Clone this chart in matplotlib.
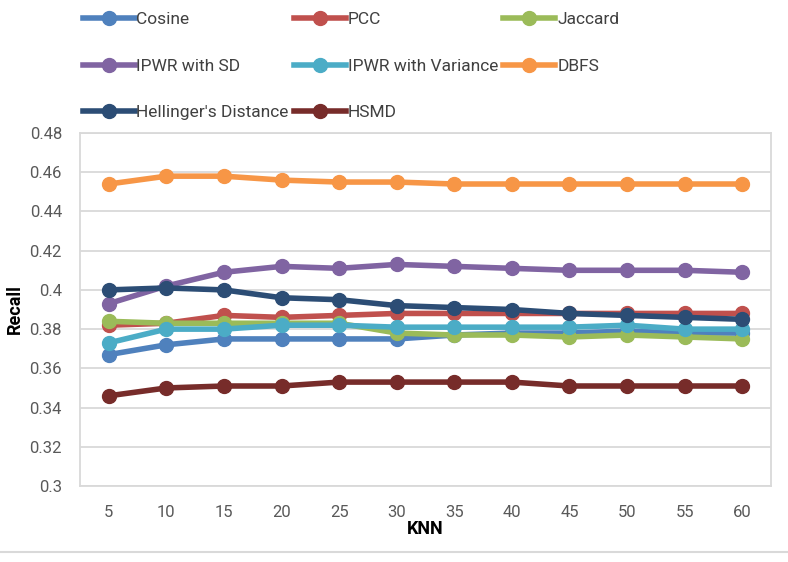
import matplotlib.pyplot as plt
from matplotlib.lines import Line2D

# KNN neighbourhood sizes and recall per similarity measure
knn = [5, 10, 15, 20, 25, 30, 35, 40, 45, 50, 55, 60]

cosine = [0.367, 0.372, 0.375, 0.375, 0.375, 0.375, 0.377, 0.378, 0.378, 0.379, 0.378, 0.378]
pcc = [0.382, 0.383, 0.387, 0.386, 0.387, 0.388, 0.388, 0.388, 0.388, 0.388, 0.388, 0.388]
jaccard = [0.384, 0.383, 0.383, 0.383, 0.383, 0.378, 0.377, 0.377, 0.376, 0.377, 0.376, 0.375]
ipwr_sd = [0.393, 0.402, 0.409, 0.412, 0.411, 0.413, 0.412, 0.411, 0.410, 0.410, 0.410, 0.409]
ipwr_var = [0.373, 0.380, 0.380, 0.382, 0.382, 0.381, 0.381, 0.381, 0.381, 0.382, 0.380, 0.380]
dbfs = [0.454, 0.458, 0.458, 0.456, 0.455, 0.455, 0.454, 0.454, 0.454, 0.454, 0.454, 0.454]
hellinger = [0.400, 0.401, 0.400, 0.396, 0.395, 0.392, 0.391, 0.390, 0.388, 0.387, 0.386, 0.385]
hsmd = [0.346, 0.350, 0.351, 0.351, 0.353, 0.353, 0.353, 0.353, 0.351, 0.351, 0.351, 0.351]

series = [
    ("Cosine", cosine, "#4F81BD"),
    ("PCC", pcc, "#C0504D"),
    ("Jaccard", jaccard, "#9BBB59"),
    ("IPWR with SD", ipwr_sd, "#8064A2"),
    ("IPWR with Variance", ipwr_var, "#4BACC6"),
    ("DBFS", dbfs, "#F79646"),
    ("Hellinger's Distance", hellinger, "#2C4D75"),
    ("HSMD", hsmd, "#772C2A"),
]

plt.rcParams['font.family'] = ['Roboto', 'DejaVu Sans']

fig = plt.figure(figsize=(7.88, 5.62), dpi=100)
ax = fig.add_axes([0.1015, 0.1352, 0.8769, 0.6281])

xpos = list(range(len(knn)))
handles = {}
for name, vals, col in series:
    line, = ax.plot(xpos, vals, color=col, lw=4.0, marker='o', ms=10,
                    solid_capstyle='round', label=name)
    handles[name] = line

ax.set_xlim(-0.5, len(knn) - 0.5)
ax.set_ylim(0.30, 0.48)
ax.set_yticks([0.30 + 0.02 * i for i in range(10)])
ax.set_yticklabels(['0.3', '0.32', '0.34', '0.36', '0.38', '0.4',
                    '0.42', '0.44', '0.46', '0.48'])
ax.set_xticks(xpos)
ax.set_xticklabels([str(k) for k in knn])
ax.tick_params(axis='both', length=0, labelsize=12, colors='#595959')
ax.tick_params(axis='y', pad=13)
ax.tick_params(axis='x', pad=14)
ax.grid(axis='y', color='#D9D9D9', lw=1.3)
ax.set_axisbelow(True)
for s in ax.spines.values():
    s.set_color('#D9D9D9')
    s.set_linewidth(1.3)

ax.set_xlabel("KNN", fontsize=13, fontweight='bold', labelpad=0)
ax.set_ylabel("Recall", fontsize=13, fontweight='bold', labelpad=4)

# legend filled column by column, so order entries to read row by row
order = ["Cosine", "IPWR with SD", "Hellinger's Distance",
         "PCC", "IPWR with Variance", "HSMD",
         "Jaccard", "DBFS"]
leg_handles = [Line2D([], [], color=handles[n].get_color(), lw=4.0,
                      marker='o', ms=10) for n in order]
fig.legend(leg_handles, order, loc='upper left', bbox_to_anchor=(0.085, 1.006),
           ncol=3, frameon=False, fontsize=12.5, handlelength=3.0,
           handletextpad=0.1, columnspacing=0.3, labelspacing=1.79,
           labelcolor='#404040')

# thin rule along the bottom of the chart
fig.add_artist(Line2D([0, 1], [1 - 552 / 562, 1 - 552 / 562],
                      transform=fig.transFigure, color='#D9D9D9', lw=1.5))

fig.savefig("out.png", dpi=100)
